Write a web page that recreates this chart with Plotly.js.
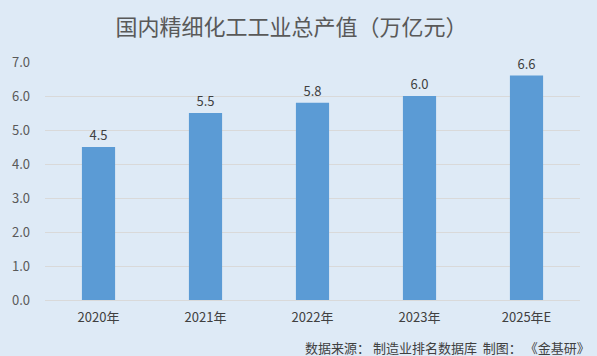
<!DOCTYPE html>
<html>
<head>
<meta charset="utf-8">
<script src="https://cdn.plot.ly/plotly-3.0.1.min.js"></script>
<style>html,body{margin:0;padding:0;background:#DEEAF6;}#chart{width:597px;height:356px;}</style>
</head>
<body>
<div id="chart"></div>
<script>
const categories = ["2020年", "2021年", "2022年", "2023年", "2025年E"];
const values = [4.5, 5.5, 5.8, 6.0, 6.6];
const yTicks = [0, 1, 2, 3, 4, 5, 6, 7];
const titleText = "国内精细化工工业总产值（万亿元）";
const sourceText = "数据来源： 制造业排名数据库  制图： 《金基研》";

const font = "'Noto Sans CJK SC', 'Liberation Sans', sans-serif";
const trace = {
  type: "bar",
  x: categories,
  y: values,
  width: 0.31,
  marker: {color: "#5B9BD5"},
  text: values.map(v => v.toFixed(1)),
  textposition: "outside",
  textfont: {family: font, size: 13, color: "#404040"},
  cliponaxis: false,
  hoverinfo: "none"
};
const layout = {
  width: 597, height: 356,
  paper_bgcolor: "#DEEAF6",
  plot_bgcolor: "#DEEAF6",
  margin: {l: 45, r: 17, t: 62, b: 56},
  title: {text: titleText, xref: "container", x: 291.5 / 597, xanchor: "center",
          yref: "container", y: 1 - 27 / 356, yanchor: "middle",
          font: {family: font, size: 22, color: "#595959"}},
  xaxis: {type: "category", showgrid: false, zeroline: false, showline: false,
          ticks: "", ticklabelstandoff: 8,
          tickfont: {family: font, size: 13, color: "#404040"}},
  yaxis: {range: [0, 7], tickvals: yTicks, ticktext: yTicks.map(v => v.toFixed(1)),
          showgrid: true, gridcolor: "#D9D9D9", gridwidth: 1, zeroline: true,
          zerolinecolor: "#D9D9D9", showline: false, ticks: "",
          ticklabelstandoff: 14,
          tickfont: {family: font, size: 13, color: "#595959"}},
  showlegend: false,
  annotations: [{text: sourceText, xref: "paper", yref: "paper",
                 x: 1 + 12 / 535, y: -47 / 238, xanchor: "right", yanchor: "middle", showarrow: false,
                 font: {family: font, size: 13, color: "#404040"}}]
};
Plotly.newPlot("chart", [trace], layout, {displayModeBar: false, staticPlot: true});
</script>
</body>
</html>
